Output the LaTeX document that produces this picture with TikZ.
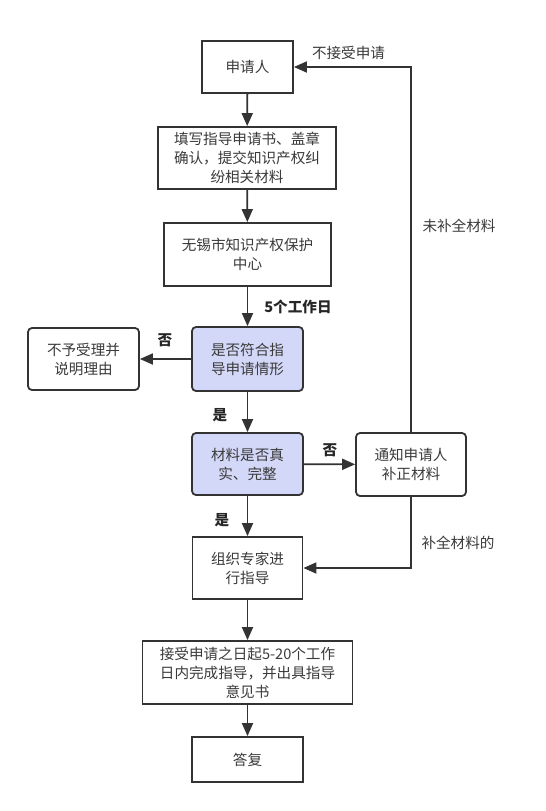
\documentclass[tikz,border=0pt]{standalone}
\usepackage{fontspec}
\setmainfont{Noto Sans CJK SC}
\usetikzlibrary{arrows.meta}
\definecolor{lineC}{HTML}{333333}
\definecolor{textC}{HTML}{3A3A3A}
\definecolor{decC}{RGB}{212,216,248}
\begin{document}
\begin{tikzpicture}[x=1pt,y=-1pt,
  base/.style={draw=lineC,line width=1.8pt,align=center,inner sep=0pt,
    font=\fontsize{14.6}{19}\selectfont,text=textC},
  box/.style={base,rectangle},
  rbox/.style={base,rectangle,rounded corners=4pt},
  dec/.style={rbox,fill=decC},
  conn/.style={draw=lineC,line width=1.8pt,-{Triangle[length=13pt,width=11pt]}},
  lbl/.style={font=\fontsize{14.6}{19}\selectfont,text=textC,inner sep=0pt},
  blbl/.style={font=\fontsize{14.6}{19}\selectfont\bfseries,text=black!85,inner sep=0pt}]
\useasboundingbox[fill=white] (0,0) rectangle (546,811);
\node[box,minimum width=91pt,minimum height=52pt] (n1) at (247.5,67) {申请人};
\node[box,minimum width=178pt,minimum height=62pt] (n2) at (247,158) {填写指导申请书、盖章\\确认，提交知识产权纠\\纷相关材料};
\node[box,minimum width=167pt,minimum height=63pt] (n3) at (247.5,254.5) {无锡市知识产权保护\\中心};
\node[dec,minimum width=111pt,minimum height=64pt] (d1) at (247.5,359) {是否符合指\\导申请情形};
\node[rbox,minimum width=111pt,minimum height=62pt] (r1) at (83.5,359) {不予受理并\\说明理由};
\node[dec,minimum width=111pt,minimum height=62pt] (d2) at (247.5,464) {材料是否真\\实、完整};
\node[rbox,minimum width=110pt,minimum height=63pt] (n4) at (411,464.5) {通知申请人\\补正材料};
\node[box,minimum width=110pt,minimum height=62pt] (n5) at (247.5,568) {组织专家进\\行指导};
\node[box,minimum width=210pt,minimum height=63pt] (n6) at (247.5,672.5) {接受申请之日起5-20个工作\\日内完成指导，并出具指导\\意见书};
\node[box,minimum width=111pt,minimum height=45pt] (n7) at (247.5,759.5) {答复};

\draw[conn] (n1) -- (n2);
\draw[conn] (n2) -- (n3);
\draw[conn] (n3) -- (d1);
\draw[conn] (d1) -- (r1);
\draw[conn] (d1) -- (d2);
\draw[conn] (d2) -- (n4);
\draw[conn] (d2) -- (n5);
\draw[conn] (n5) -- (n6);
\draw[conn] (n6) -- (n7);
\draw[conn] (n4.north) |- (n1.east);
\draw[conn] (n4.south) |- (n5.east);

\node[lbl] (l1) at (348.5,53) {不接受申请};
\node[lbl] (l2) at (459,226) {未补全材料};
\node[lbl] (l3) at (458,543) {补全材料的};
\node[blbl] (l4) at (298,307) {5个工作日};
\node[blbl] (l5) at (165,340) {否};
\node[blbl] (l6) at (220,415) {是};
\node[blbl] (l7) at (330,450) {否};
\node[blbl] (l8) at (222,520) {是};
\end{tikzpicture}
\end{document}
